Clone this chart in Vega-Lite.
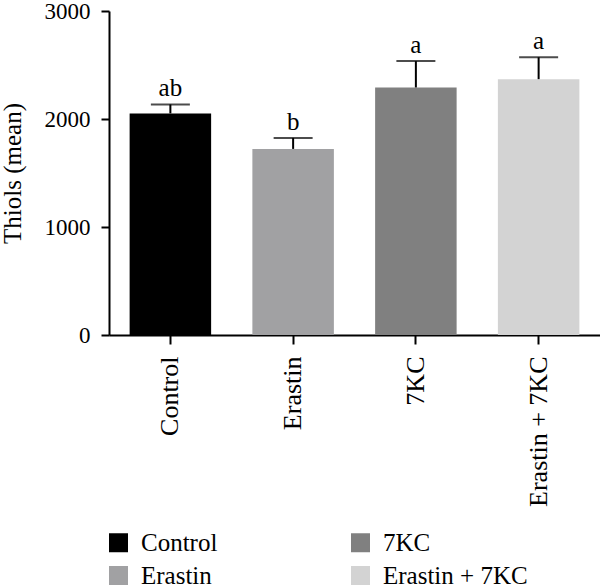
{
  "$schema": "https://vega.github.io/schema/vega-lite/v6.json",
  "width": 491,
  "height": 324,
  "autosize": {"type": "none"},
  "padding": {"left": 109, "top": 11, "right": 0, "bottom": 253},
  "background": "white",
  "config": {
    "view": {"stroke": null},
    "font": "Liberation Serif",
    "axis": {
      "domainColor": "black",
      "domainWidth": 2,
      "tickColor": "black",
      "tickWidth": 2,
      "grid": false,
      "labelColor": "black",
      "titleColor": "black",
      "labelFont": "Liberation Serif",
      "titleFont": "Liberation Serif"
    }
  },
  "data": {
    "values": [
      {"group": "Control", "mean": 2052, "upper": 2135, "letter": "ab"},
      {"group": "Erastin", "mean": 1723, "upper": 1825, "letter": "b"},
      {"group": "7KC", "mean": 2292, "upper": 2536, "letter": "a"},
      {"group": "Erastin + 7KC", "mean": 2369, "upper": 2572, "letter": "a"}
    ]
  },
  "encoding": {
    "x": {
      "field": "group",
      "type": "nominal",
      "sort": ["Control", "Erastin", "7KC", "Erastin + 7KC"],
      "scale": {"paddingInner": 0.336, "paddingOuter": 0.168},
      "axis": {
        "title": null,
        "labelAngle": -90,
        "labelAlign": "right",
        "labelBaseline": "middle",
        "labelFontSize": 26,
        "labelPadding": 12,
        "tickSize": 9,
        "labelLimit": 300
      }
    }
  },
  "layer": [
    {
      "mark": {"type": "bar"},
      "encoding": {
        "y": {
          "field": "mean",
          "type": "quantitative",
          "scale": {"domain": [0, 3000], "nice": false},
          "axis": {
            "title": "Thiols (mean)",
            "titleFontSize": 25,
            "titleFontWeight": "normal",
            "titlePadding": 19,
            "values": [0, 1000, 2000, 3000],
            "format": "d",
            "labelFontSize": 23,
            "labelPadding": 11,
            "tickSize": 8
          }
        },
        "color": {
          "field": "group",
          "type": "nominal",
          "scale": {
            "domain": ["Control", "Erastin", "7KC", "Erastin + 7KC"],
            "range": ["#000000", "#a1a1a3", "#808080", "#d3d3d3"]
          },
          "legend": {
            "title": null,
            "orient": "none",
            "legendX": -3,
            "legendY": 519,
            "columns": 2,
            "gridAlign": "each",
            "columnPadding": 130,
            "rowPadding": 7,
            "symbolType": "square",
            "symbolSize": 361,
            "symbolStrokeWidth": 0,
            "symbolOpacity": 1,
            "labelFontSize": 25,
            "labelColor": "black",
            "labelOffset": 10,
            "labelLimit": 300
          }
        }
      }
    },
    {
      "mark": {"type": "rule", "color": "black", "strokeWidth": 2},
      "encoding": {
        "y": {"field": "mean", "type": "quantitative"},
        "y2": {"field": "upper"}
      }
    },
    {
      "mark": {"type": "tick", "color": "black", "thickness": 2, "size": 39},
      "encoding": {
        "y": {"field": "upper", "type": "quantitative"}
      }
    },
    {
      "mark": {"type": "text", "fontSize": 25, "color": "black", "baseline": "alphabetic", "dy": -8},
      "encoding": {
        "y": {"field": "upper", "type": "quantitative"},
        "text": {"field": "letter"}
      }
    }
  ]
}
